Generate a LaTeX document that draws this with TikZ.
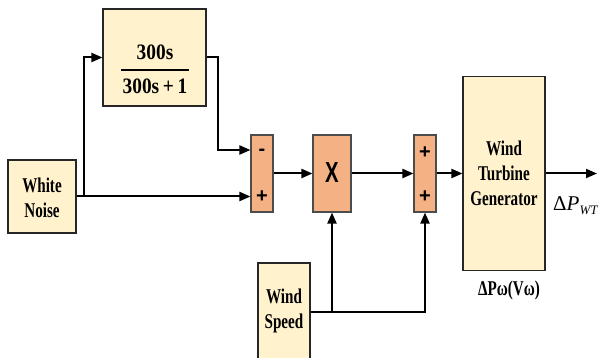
\documentclass[tikz,border=0pt]{standalone}
\usepackage{fontspec}
\setmainfont{Liberation Serif}
\newfontfamily\condfont[FakeStretch=0.72]{Liberation Serif}
\newfontfamily\fracfont[FakeStretch=0.88]{Liberation Serif}
\newfontfamily\signfont{Liberation Sans}
\newfontfamily\xfont[FakeStretch=0.7]{Liberation Sans}
\usetikzlibrary{arrows.meta}
\definecolor{pale}{HTML}{FFF2CC}
\definecolor{peach}{HTML}{F4B183}
\begin{document}
\begin{tikzpicture}[x=1pt,y=-1pt,
  blk/.style={draw=black!85, line width=1.1pt, fill=pale, inner sep=0pt},
  sumblk/.style={draw=black!70, line width=1.1pt, fill=peach, inner sep=0pt},
  lbl/.style={font=\condfont\bfseries\fontsize{21}{25}\selectfont, align=center, inner sep=0pt},
  sgn/.style={font=\signfont\bfseries\fontsize{20}{20}\selectfont, inner sep=0pt},
  wire/.style={line width=2pt},
  arr/.style={wire, -{Triangle[length=11pt,width=9pt]}}]
\useasboundingbox (0,0) rectangle (598,358);
\clip (0,0) rectangle (598,358);
% blocks
\node[blk, minimum width=103pt, minimum height=97pt] (filt) at (154.5,57.5) {};
\node[blk, minimum width=68pt, minimum height=73pt] (wn) at (42,196.5) {};
\node[sumblk, minimum width=22pt, minimum height=77pt] (sum1) at (262,173.5) {};
\node[sumblk, minimum width=38pt, minimum height=77pt] (mult) at (332,173.5) {};
\node[sumblk, minimum width=22pt, minimum height=77pt] (sum2) at (425,173.5) {};
\node[blk, minimum width=82pt, minimum height=194pt] (wt) at (504,173.5) {};
\node[blk, minimum width=52pt, minimum height=98pt] (ws) at (284,312) {};
% texts
\node[font=\fracfont\bfseries\fontsize{22}{22}\selectfont, inner sep=0pt] (num) at (155,52) {300s};
\draw[line width=1.3pt] (121,70) -- (189,70);
\node[font=\fracfont\bfseries\fontsize{22}{22}\selectfont, inner sep=0pt] (den) at (155,86) {300s\,+\,1};
\node[lbl] (wnt) at (42,197.5) {White\\Noise};
\node[lbl] (wtt) at (504,173.5) {Wind\\Turbine\\Generator};
\node[lbl] (wst) at (284,311) {Wind\\Speed};
\node[lbl] (dpw) at (509,290) {ΔPω(Vω)};
\node[font=\fontsize{21}{21}\selectfont, inner sep=0pt, anchor=west] (dpwt) at (553,206) {Δ\textit{P}\raisebox{-4pt}{\fontsize{13}{13}\selectfont\textit{WT}}};
\node[sgn] (m1) at (262,152) {-};
\node[sgn] (p1) at (262,197) {+};
\node[sgn] (p2) at (425,153) {+};
\node[sgn] (p3) at (425,197) {+};
\node[font=\xfont\bfseries\fontsize{29}{29}\selectfont, inner sep=0pt] (xx) at (332,173) {X};
% connectors
\coordinate (br) at (84,196.5);
\coordinate (out) at (597,173.5);
\draw[arr] (wn.east) -- (wn.east -| sum1.west);
\draw[arr] (br) |- (filt.west);
\draw[arr] (filt.east) -- ++(11,0) |- ([yshift=23.5pt]sum1.west);
\draw[arr] (sum1.east) -- (mult.west);
\draw[arr] (mult.east) -- (sum2.west);
\draw[arr] (sum2.east) -- (wt.west);
\draw[arr] (wt.east) -- (out);
\draw[arr] (ws.east) -| (sum2.south);
\draw[arr] (ws.east -| mult.south) -- (mult.south);
\end{tikzpicture}
\end{document}
